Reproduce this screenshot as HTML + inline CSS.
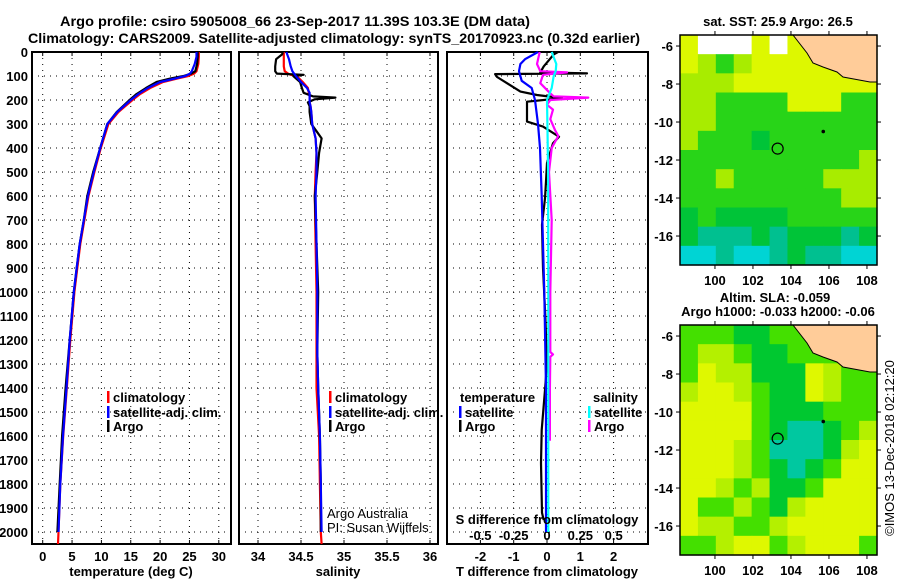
<!DOCTYPE html>
<html><head><meta charset="utf-8"><style>
html,body{margin:0;padding:0;background:#fff;}
svg{display:block;font-family:"Liberation Sans",sans-serif;}
.b{font-weight:bold;}
</style></head><body>
<svg id="c" width="900" height="580" viewBox="0 0 900 580" xmlns="http://www.w3.org/2000/svg">
<text x="295" y="26" text-anchor="middle" class="b" font-size="14" textLength="470" lengthAdjust="spacingAndGlyphs">Argo profile: csiro 5905008_66 23-Sep-2017 11.39S 103.3E (DM data)</text>
<text x="334" y="43" text-anchor="middle" class="b" font-size="14" textLength="612" lengthAdjust="spacingAndGlyphs">Climatology: CARS2009. Satellite-adjusted climatology: synTS_20170923.nc (0.32d earlier)</text>
<g id="g"></g>
</svg>
<script>
// ---------- profile data ----------
const depthT = [0,20,50,80,90,100,110,125,150,175,200,250,300,400,500,600,700,800,900,1000,1200,1400,1600,1800,2000,2050];
const argoT = [26.4,26.4,26.3,26.0,25.3,24.0,21.8,19.4,17.6,16.0,14.8,12.6,11.0,9.8,8.6,7.6,7.0,6.3,5.8,5.3,4.6,3.9,3.3,2.9,2.5,null];
const climT = [26.6,26.6,26.5,26.2,25.8,24.8,23.0,20.5,18.3,16.6,15.3,12.9,11.2,9.9,8.8,7.8,7.1,6.4,5.9,5.4,4.7,4.1,3.5,3.0,2.7,2.6];
const satT  = [26.2,26.2,25.9,25.4,25.1,24.3,22.6,20.0,17.9,16.3,15.0,12.7,11.0,9.8,8.7,7.7,7.0,6.3,5.8,5.3,4.6,4.05,3.45,3.0,2.7,null];

const depthS = [0,10,30,60,80,90,95,100,125,150,170,185,190,197,210,225,250,300,330,360,420,500,600,800,1000,1250,1400,1600,1800,2000,2050];
const argoS = [34.29,34.28,34.21,34.2,34.2,34.22,34.53,34.41,34.49,34.51,34.53,34.64,34.9,34.66,34.58,34.6,34.6,34.62,34.68,34.74,34.71,34.69,34.66,34.68,34.7,34.69,34.70,34.72,34.73,34.73,null];
const climS = [34.30,34.30,34.30,34.30,34.31,34.35,34.38,34.45,34.52,34.58,34.59,34.6,34.6,34.6,34.6,34.61,34.62,34.63,34.65,34.67,34.68,34.67,34.66,34.67,34.68,34.68,34.68,34.71,34.72,34.73,34.74];
const satS  = [34.33,34.34,34.36,34.38,34.4,34.42,34.43,34.44,34.5,34.57,34.6,34.6,34.6,34.6,34.6,34.61,34.62,34.63,34.65,34.67,34.68,34.68,34.67,34.68,34.69,34.69,34.7,34.72,34.73,34.74,null];

const argoTdDepth = [0,10,60,85,89,92,104,130,165,179,192,207,240,290,311,353,380,463,540,610,720,900,1100,1300,1408,1575,1713,1920,1950];
const argoTd = [0.33,0.2,-0.1,-0.2,1.2,-1.56,-1.5,-1.2,-0.8,-0.3,0.45,-0.6,-0.6,-0.6,-0.12,0.36,0.18,0.0,-0.03,-0.06,-0.15,-0.12,-0.05,0.0,-0.06,-0.16,-0.18,-0.15,-0.1];
const satTdDepth = [0,30,50,80,120,150,200,300,400,600,800,1000,1400,1900,2000];
const satTd = [-0.27,-0.66,-0.8,-0.84,-0.76,-0.46,-0.36,-0.27,-0.21,-0.16,-0.12,-0.08,-0.03,-0.03,-0.03];
const argoSdDepth = [0,50,80,85,95,130,170,185,190,200,220,240,280,325,350,400,500,700,1000,1250,1260,1270,1400,1620];
const argoSd = [-0.055,-0.075,-0.05,0.15,-0.03,-0.05,0.02,0.05,0.31,0.025,0.0,0.045,0.025,0.06,0.085,0.035,0.015,0.035,0.025,0.025,0.045,0.025,0.022,0.022];
const satSdDepth = [0,50,80,100,150,200,300,500,1000,2000];
const satSd = [0.035,0.07,0.065,0.05,0.035,0.0,0.003,0.008,0.01,0.01];

const depthTicks = [0,100,200,300,400,500,600,700,800,900,1000,1100,1200,1300,1400,1500,1600,1700,1800,1900,2000];
const tTicks = [0,5,10,15,20,25,30];
const sTicks = [34,34.5,35,35.5,36];
const sTickLabels = ["34","34.5","35","35.5","36"];
const dTTicks = [-2,-1,0,1,2];
const dSTicks = [-0.5,-0.25,0,0.25,0.5];
const dSTickLabels = ["-0.5","-0.25","0","0.25","0.5"];

// ---------- map data (colour class per ~1 degree cell) ----------
const sstCells = [
[1,0,0,0,1,0,1,1,1,1,1],
[1,2,3,2,1,1,1,1,1,1,1],
[2,2,2,1,1,1,1,1,1,1,1],
[2,2,3,3,3,3,1,1,1,3,3],
[2,2,3,3,3,3,3,3,3,3,3],
[2,3,3,3,4,3,3,3,3,3,3],
[3,3,3,3,3,3,3,3,3,3,2],
[3,3,2,3,3,3,3,3,2,2,2],
[3,3,3,3,3,3,3,3,3,2,2],
[4,3,4,4,4,4,3,3,3,3,3],
[4,5,5,5,4,5,4,4,4,5,4],
[6,6,5,6,6,5,4,5,5,6,6]];
const slaCells = [
[3,3,3,4,4,3,3,3,3,3,3],
[3,2,2,3,4,4,3,3,3,3,3],
[3,1,2,2,4,4,4,1,2,3,3],
[2,1,1,2,3,4,4,1,2,3,3],
[1,1,1,1,3,4,4,4,3,3,3],
[1,1,1,1,3,4,5,5,4,3,2],
[1,1,1,2,3,5,5,5,4,2,1],
[1,1,1,2,3,4,5,4,3,1,1],
[1,1,2,3,2,4,4,3,1,1,1],
[1,3,3,2,3,4,2,1,1,1,1],
[1,2,2,3,3,2,1,1,1,1,1],
[3,3,2,1,1,3,2,1,1,1,3]];
const lonTicks = [100,102,104,106,108];
const latTicks = [-6,-8,-10,-12,-14,-16];
const argoPos = [103.3,-11.4];
const otherPos = [105.7,-10.5];

const NS="http://www.w3.org/2000/svg";
const G=document.getElementById('g');
function mk(tag,attrs,parent){const e=document.createElementNS(NS,tag);for(const k in attrs)e.setAttribute(k,attrs[k]);(parent||G).appendChild(e);return e;}
function txt(x,y,s,size,anchor,bold,parent){const t=mk('text',{x:x,y:y,'font-size':size,'text-anchor':anchor||'start','font-weight':bold===false?'normal':'bold'},parent);t.textContent=s;return t;}

const yD = d => 52 + d*0.24;
const PY0=52, PY1=544;
const panels = [
 {x0:32,x1:231,sx:v=>42.7+v*5.87},
 {x0:239,x1:438,sx:v=>258+(v-34)*86},
 {x0:447,x1:648,sx:v=>547+v*33.3}
];
const sxS = v=>547+v*133.3;

// grids + frames
panels.forEach((p,i)=>{
  const grp=mk('g',{});
  
  
  depthTicks.forEach(d=>{ if(d>0){const l=mk('line',{x1:p.x0,x2:p.x1,y1:yD(d),y2:yD(d),stroke:'#000','stroke-width':1,'stroke-dasharray':'1,5'},grp);
    
    }});
  const xt = i===0?tTicks:(i===1?sTicks:dTTicks);
  xt.forEach(v=>{const x=p.sx(v);const l=mk('line',{x1:x,x2:x,y1:PY0,y2:PY1,stroke:'#000','stroke-width':1,'stroke-dasharray':'1,5'},grp);
    
    
    mk('line',{x1:x,x2:x,y1:PY1,y2:PY1-4,stroke:'#000'},grp);
    mk('line',{x1:x,x2:x,y1:PY0,y2:PY0+4,stroke:'#000'},grp);});
  const r=mk('rect',{x:p.x0,y:PY0,width:p.x1-p.x0,height:PY1-PY0,fill:'none',stroke:'#000','stroke-width':2},grp);
  
  
});
depthTicks.forEach(d=>{const t=txt(28,yD(d)+5,String(d),13,'end');
  
  });
tTicks.forEach(v=>{const t=txt(panels[0].sx(v),561,String(v),13,'middle');
  
  });
sTicks.forEach((v,i)=>{const t=txt(panels[1].sx(v),561,sTickLabels[i],13,'middle');
  
  });
dTTicks.forEach(v=>{const t=txt(panels[2].sx(v),561,String(v),13,'middle');
  
  });
dSTicks.forEach((v,i)=>{const t=txt(sxS(v),540,dSTickLabels[i],13,'middle');
  
  });

function series(depths,vals,sx,color,name){
  let d='';let pen=false;
  vals.forEach((v,i)=>{ if(v===null){pen=false;return;} d+=(pen?'L':'M')+sx(v).toFixed(1)+' '+yD(depths[i]).toFixed(1)+' '; pen=true;});
  const p=mk('path',{d:d,fill:'none',stroke:color,'stroke-width':2.2,'stroke-linejoin':'round'});
  
  
}
series(depthT,climT,panels[0].sx,'#ff0000','temperature-climatology-line');
series(depthT,argoT,panels[0].sx,'#000000','temperature-argo-line');
series(depthT,satT,panels[0].sx,'#0000ff','temperature-satellite-line');
series(depthS,climS,panels[1].sx,'#ff0000','salinity-climatology-line');
series(depthS,argoS,panels[1].sx,'#000000','salinity-argo-line');
series(depthS,satS,panels[1].sx,'#0000ff','salinity-satellite-line');
series(argoTdDepth,argoTd,panels[2].sx,'#000000','t-diff-argo-line');
series(satTdDepth,satTd,panels[2].sx,'#0000ff','t-diff-satellite-line');
series(argoSdDepth,argoSd,sxS,'#ff00ff','s-diff-argo-line');
series(satSdDepth,satSd,sxS,'#00ffff','s-diff-satellite-line');

// axis titles
[[131,576,'temperature (deg C)','temperature-axis-title'],[338,576,'salinity','salinity-axis-title'],[547,576,'T difference from climatology','t-diff-axis-title'],[547,524,'S difference from climatology','s-diff-axis-title']].forEach(a=>{
  const t=txt(a[0],a[1],a[2],13,'middle');
  
  });

// legends
function leg(x,y,color,label,name){
  const g=mk('g',{});
  
  
  mk('rect',{x:x,y:y-6,width:2.5,height:12,fill:color},g);
  txt(x+6,y+5,label,13,'start',true,g);
}
leg(107,397,'#ff0000','climatology','legend-temp-climatology');
leg(107,412,'#0000ff','satellite-adj. clim.','legend-temp-satellite');
leg(107,426,'#000000','Argo','legend-temp-argo');
leg(329,397,'#ff0000','climatology','legend-sal-climatology');
leg(329,412,'#0000ff','satellite-adj. clim.','legend-sal-satellite');
leg(329,426,'#000000','Argo','legend-sal-argo');
{const t=txt(460,402,'temperature',13,'start');}
{const t=txt(593,402,'salinity',13,'start');}
leg(459,412,'#0000ff','satellite','legend-diff-temp-satellite');
leg(459,426,'#000000','Argo','legend-diff-temp-argo');
leg(588,412,'#00ffff','satellite','legend-diff-sal-satellite');
leg(588,426,'#ff00ff','Argo','legend-diff-sal-argo');
{const t=txt(327,518,'Argo Australia',13,'start',false);}
{const t=txt(327,532,'PI: Susan Wijffels',13,'start',false);}

// ---------- maps ----------
const LON0=98.16, LAT0=-5.42, PPD=19;
function drawMap(y0,cells,palette,name){
  const x0=680,W=197,H=230;
  const g=mk('g',{});
  
  
  const cw=W/cells[0].length, ch=H/cells.length;
  cells.forEach((row,r)=>row.forEach((v,c)=>{
    const cell=mk('rect',{x:x0+c*cw,y:y0+r*ch,width:cw+0.6,height:ch+0.6,fill:palette[v]},g);
    
    
  }));
  const land=mk('polygon',{points:[[113,0],[127,18],[133,28],[143,32],[157,37],[163,42],[190,47],[197,47],[197,0]].map(p=>(x0+p[0])+','+(y0+p[1])).join(' '),fill:'#ffcc99',stroke:'#000','stroke-width':1},g);
  
  
  const mx=lon=>x0+(lon-LON0)*PPD, my=lat=>y0+(LAT0-lat)*PPD;
  const ci=mk('circle',{cx:mx(argoPos[0]),cy:my(argoPos[1]),r:5.5,fill:'none',stroke:'#000','stroke-width':1.2},g);
  
  
  mk('circle',{cx:mx(otherPos[0]),cy:my(otherPos[1]),r:1.8,fill:'#000'},g);
  mk('rect',{x:x0,y:y0,width:W,height:H,fill:'none',stroke:'#000','stroke-width':1.5},g);
  lonTicks.forEach(l=>{const x=mx(l);mk('line',{x1:x,x2:x,y1:y0,y2:y0-4,stroke:'#000'},g);mk('line',{x1:x,x2:x,y1:y0+H,y2:y0+H+4,stroke:'#000'},g);
    const t=txt(x,y0+H+20,String(l),13,'middle',true,g);
    
    });
  latTicks.forEach(l=>{const y=my(l);mk('line',{x1:x0+W,x2:x0+W+4,y1:y,y2:y,stroke:'#000'},g);mk('line',{x1:x0,x2:x0-4,y1:y,y2:y,stroke:'#000'},g);
    const t=txt(x0-7,y+5,String(l),13,'end',true,g);
    
    });
}
drawMap(35,sstCells,['#ffffff','#ddf800','#a8ec00','#28d418','#00c438','#00c090','#00d4d4'],'sst-map');
drawMap(325,slaCells,['#ffffff','#dff800','#b4f000','#44e000','#00c830','#00c8a0','#00d4d4'],'sla-map');
{const t=txt(778,26,'sat. SST: 25.9 Argo: 26.5',13,'middle');}
{const t=txt(775,302,'Altim. SLA: -0.059',13,'middle');}
{const t=txt(778,316,'Argo h1000: -0.033 h2000: -0.06',13,'middle');}
{const t=txt(0,0,'©IMOS 13-Dec-2018 02:12:20',13,'middle',false);t.setAttribute('transform','translate(894,448) rotate(-90)');}
</script>
</body></html>
